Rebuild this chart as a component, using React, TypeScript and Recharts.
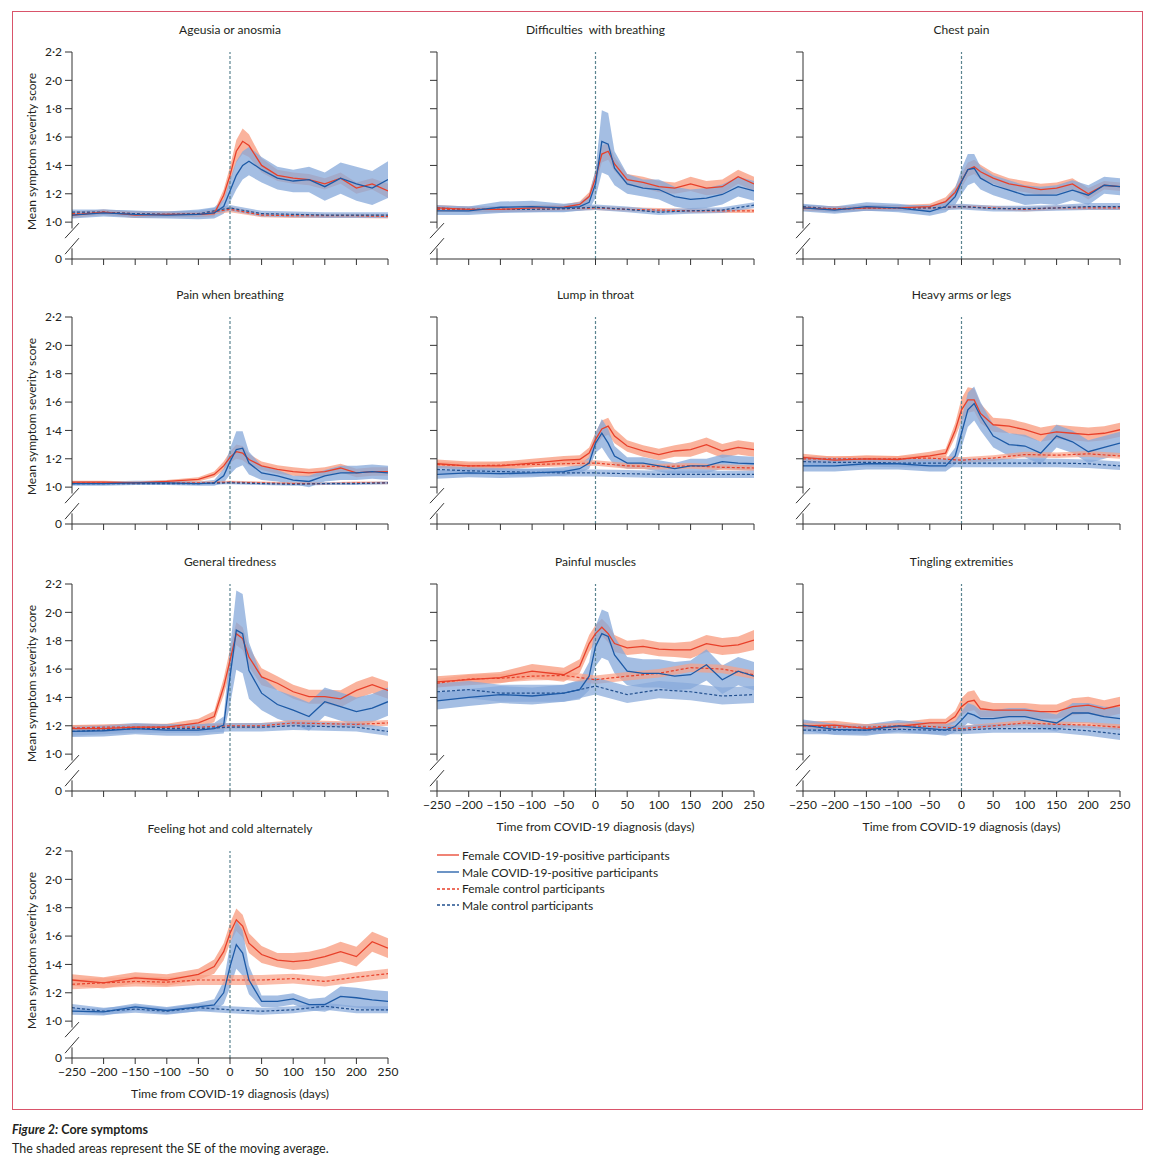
import React from 'react';
import { Area, ComposedChart, Line, ReferenceLine, XAxis, YAxis } from 'recharts';

// days relative to diagnosis
const X_POS = [-250, -200, -150, -100, -50, -25, -10, 0, 10, 20, 30, 50, 75, 100, 125, 150, 175, 200, 225, 250];
const X_CTL = [-250, -200, -150, -100, -50, 0, 50, 100, 150, 200, 250];
const X_TICKS = [-250, -200, -150, -100, -50, 0, 50, 100, 150, 200, 250];
// 0.74 stands in for the broken-axis "0"
const Y_TICKS = [0.74, 1.0, 1.2, 1.4, 1.6, 1.8, 2.0, 2.2];
const Y_ZERO = 0.74;

const ageusia = {
  title: 'Ageusia or anosmia',
  femalePos: [1.05, 1.07, 1.05, 1.055, 1.055, 1.06, 1.19, 1.33, 1.5, 1.57, 1.54, 1.4, 1.33, 1.31, 1.3, 1.27, 1.31, 1.24, 1.27, 1.22],
  femalePosSe: [0.02, 0.02, 0.02, 0.02, 0.02, 0.02, 0.04, 0.06, 0.08, 0.09, 0.08, 0.05, 0.04, 0.04, 0.04, 0.04, 0.04, 0.04, 0.04, 0.05],
  malePos: [1.05, 1.065, 1.055, 1.05, 1.055, 1.065, 1.11, 1.22, 1.33, 1.4, 1.43, 1.37, 1.31, 1.29, 1.3, 1.25, 1.31, 1.27, 1.24, 1.3],
  malePosSe: [0.025, 0.025, 0.025, 0.025, 0.035, 0.04, 0.05, 0.08, 0.1, 0.1, 0.1, 0.09, 0.08, 0.08, 0.09, 0.1, 0.11, 0.12, 0.12, 0.13],
  femaleCtl: [1.06, 1.07, 1.06, 1.055, 1.055, 1.09, 1.05, 1.045, 1.045, 1.045, 1.04],
  femaleCtlSe: [0.015, 0.015, 0.015, 0.015, 0.015, 0.02, 0.015, 0.015, 0.015, 0.015, 0.015],
  maleCtl: [1.07, 1.07, 1.06, 1.055, 1.06, 1.1, 1.06, 1.055, 1.05, 1.05, 1.05],
  maleCtlSe: [0.02, 0.02, 0.02, 0.02, 0.02, 0.02, 0.02, 0.02, 0.02, 0.02, 0.02],
};

const breathing = {
  title: 'Difficulties  with breathing',
  femalePos: [1.1, 1.09, 1.09, 1.1, 1.105, 1.125, 1.18, 1.31, 1.48, 1.5, 1.41, 1.3, 1.28, 1.25, 1.24, 1.27, 1.24, 1.25, 1.32, 1.27],
  femalePosSe: [0.02, 0.02, 0.02, 0.02, 0.02, 0.02, 0.03, 0.05, 0.06, 0.06, 0.05, 0.04, 0.04, 0.04, 0.04, 0.05, 0.05, 0.05, 0.05, 0.05],
  malePos: [1.08, 1.08, 1.105, 1.11, 1.1, 1.11, 1.14, 1.27, 1.57, 1.55, 1.38, 1.27, 1.24, 1.23, 1.18, 1.16, 1.17, 1.195, 1.25, 1.22],
  malePosSe: [0.03, 0.03, 0.04, 0.04, 0.03, 0.03, 0.05, 0.1, 0.22, 0.22, 0.12, 0.07, 0.06, 0.07, 0.07, 0.07, 0.07, 0.07, 0.07, 0.07],
  femaleCtl: [1.09, 1.09, 1.09, 1.09, 1.095, 1.1, 1.09, 1.085, 1.08, 1.08, 1.08],
  femaleCtlSe: [0.015, 0.015, 0.015, 0.015, 0.015, 0.015, 0.015, 0.015, 0.015, 0.015, 0.015],
  maleCtl: [1.1, 1.09, 1.09, 1.09, 1.095, 1.105, 1.09, 1.07, 1.08, 1.085, 1.12],
  maleCtlSe: [0.02, 0.02, 0.02, 0.02, 0.02, 0.02, 0.02, 0.02, 0.02, 0.02, 0.02],
};

const chestPain = {
  title: 'Chest pain',
  femalePos: [1.1, 1.09, 1.1, 1.1, 1.11, 1.145, 1.21, 1.29, 1.37, 1.39, 1.355, 1.31, 1.27, 1.25, 1.23, 1.24, 1.27, 1.2, 1.26, 1.25],
  femalePosSe: [0.02, 0.02, 0.02, 0.02, 0.02, 0.03, 0.04, 0.05, 0.05, 0.05, 0.05, 0.04, 0.04, 0.04, 0.04, 0.04, 0.04, 0.04, 0.03, 0.03],
  malePos: [1.1, 1.085, 1.11, 1.1, 1.075, 1.11, 1.18, 1.285, 1.37, 1.38, 1.31, 1.26, 1.225, 1.19, 1.19, 1.19, 1.225, 1.19, 1.26, 1.25],
  malePosSe: [0.025, 0.025, 0.03, 0.03, 0.03, 0.04, 0.06, 0.09, 0.11, 0.1, 0.08, 0.07, 0.07, 0.07, 0.06, 0.07, 0.07, 0.07, 0.06, 0.06],
  femaleCtl: [1.1, 1.095, 1.1, 1.1, 1.1, 1.11, 1.1, 1.09, 1.1, 1.1, 1.1],
  femaleCtlSe: [0.015, 0.015, 0.015, 0.015, 0.015, 0.015, 0.015, 0.015, 0.015, 0.015, 0.015],
  maleCtl: [1.11, 1.09, 1.1, 1.1, 1.1, 1.11, 1.095, 1.095, 1.1, 1.11, 1.11],
  maleCtlSe: [0.02, 0.02, 0.02, 0.02, 0.02, 0.02, 0.02, 0.02, 0.02, 0.025, 0.025],
};

const painBreathing = {
  title: 'Pain when breathing',
  femalePos: [1.035, 1.035, 1.03, 1.04, 1.055, 1.09, 1.15, 1.21, 1.25, 1.24, 1.195, 1.15, 1.125, 1.11, 1.1, 1.11, 1.135, 1.1, 1.11, 1.11],
  femalePosSe: [0.01, 0.01, 0.01, 0.01, 0.015, 0.02, 0.03, 0.04, 0.05, 0.05, 0.04, 0.03, 0.03, 0.03, 0.03, 0.03, 0.03, 0.03, 0.03, 0.03],
  malePos: [1.025, 1.025, 1.03, 1.03, 1.025, 1.03, 1.08, 1.18, 1.265, 1.275, 1.17, 1.1, 1.08, 1.05, 1.04, 1.08, 1.1, 1.1, 1.11, 1.1],
  malePosSe: [0.015, 0.015, 0.015, 0.015, 0.015, 0.02, 0.05, 0.09, 0.13, 0.12, 0.08, 0.05, 0.04, 0.03, 0.04, 0.04, 0.05, 0.05, 0.05, 0.05],
  femaleCtl: [1.03, 1.03, 1.03, 1.03, 1.03, 1.035, 1.03, 1.025, 1.025, 1.03, 1.03],
  femaleCtlSe: [0.01, 0.01, 0.01, 0.01, 0.01, 0.01, 0.01, 0.01, 0.01, 0.01, 0.01],
  maleCtl: [1.025, 1.025, 1.025, 1.025, 1.025, 1.03, 1.025, 1.02, 1.025, 1.025, 1.03],
  maleCtlSe: [0.01, 0.01, 0.01, 0.01, 0.01, 0.01, 0.01, 0.01, 0.01, 0.01, 0.01],
};

const lumpThroat = {
  title: 'Lump in throat',
  femalePos: [1.165, 1.15, 1.15, 1.17, 1.19, 1.195, 1.24, 1.335, 1.41, 1.43, 1.36, 1.29, 1.255, 1.23, 1.255, 1.265, 1.3, 1.255, 1.28, 1.265],
  femalePosSe: [0.03, 0.03, 0.03, 0.03, 0.03, 0.03, 0.04, 0.05, 0.06, 0.06, 0.05, 0.04, 0.04, 0.04, 0.04, 0.05, 0.05, 0.05, 0.05, 0.05],
  malePos: [1.09, 1.1, 1.095, 1.1, 1.11, 1.13, 1.17, 1.31, 1.38, 1.31, 1.22, 1.17, 1.17, 1.15, 1.13, 1.15, 1.15, 1.18, 1.17, 1.165],
  malePosSe: [0.03, 0.03, 0.03, 0.03, 0.03, 0.03, 0.04, 0.07, 0.1, 0.1, 0.07, 0.04, 0.04, 0.04, 0.04, 0.05, 0.05, 0.05, 0.05, 0.05],
  femaleCtl: [1.16, 1.15, 1.155, 1.16, 1.165, 1.17, 1.15, 1.145, 1.15, 1.14, 1.135],
  femaleCtlSe: [0.02, 0.02, 0.02, 0.02, 0.02, 0.02, 0.02, 0.02, 0.02, 0.02, 0.02],
  maleCtl: [1.125, 1.115, 1.11, 1.105, 1.1, 1.1, 1.095, 1.09, 1.09, 1.09, 1.09],
  maleCtlSe: [0.025, 0.025, 0.025, 0.025, 0.025, 0.025, 0.025, 0.025, 0.025, 0.025, 0.025],
};

const heavyLimbs = {
  title: 'Heavy arms or legs',
  femalePos: [1.21, 1.19, 1.2, 1.195, 1.22, 1.24, 1.4, 1.545, 1.615, 1.615, 1.52, 1.44, 1.43, 1.405, 1.37, 1.39, 1.38, 1.37, 1.38, 1.405],
  femalePosSe: [0.025, 0.025, 0.025, 0.025, 0.03, 0.03, 0.05, 0.08, 0.09, 0.08, 0.07, 0.05, 0.05, 0.05, 0.05, 0.05, 0.05, 0.05, 0.05, 0.05],
  malePos: [1.15, 1.15, 1.165, 1.165, 1.15, 1.15, 1.22, 1.38, 1.545, 1.59, 1.5, 1.36, 1.3, 1.29, 1.24, 1.36, 1.32, 1.25, 1.28, 1.31],
  malePosSe: [0.04, 0.04, 0.04, 0.04, 0.04, 0.04, 0.06, 0.1, 0.12, 0.12, 0.1, 0.08, 0.08, 0.08, 0.08, 0.08, 0.08, 0.08, 0.08, 0.08],
  femaleCtl: [1.2, 1.2, 1.2, 1.2, 1.205, 1.19, 1.205, 1.23, 1.225, 1.235, 1.22],
  femaleCtlSe: [0.02, 0.02, 0.02, 0.02, 0.02, 0.02, 0.02, 0.02, 0.02, 0.02, 0.02],
  maleCtl: [1.18, 1.175, 1.175, 1.17, 1.17, 1.17, 1.17, 1.17, 1.17, 1.165, 1.15],
  maleCtlSe: [0.03, 0.03, 0.03, 0.03, 0.03, 0.03, 0.03, 0.03, 0.03, 0.03, 0.03],
};

const tiredness = {
  title: 'General tiredness',
  femalePos: [1.18, 1.18, 1.19, 1.19, 1.22, 1.265, 1.475, 1.66, 1.85, 1.815, 1.685, 1.545, 1.5, 1.44, 1.405, 1.405, 1.39, 1.45, 1.49, 1.45],
  femalePosSe: [0.025, 0.025, 0.025, 0.025, 0.03, 0.04, 0.06, 0.08, 0.08, 0.08, 0.07, 0.06, 0.05, 0.05, 0.05, 0.05, 0.06, 0.06, 0.06, 0.06],
  malePos: [1.16, 1.165, 1.18, 1.17, 1.17, 1.18, 1.205, 1.545, 1.875, 1.85, 1.59, 1.43, 1.35, 1.31, 1.265, 1.37, 1.335, 1.3, 1.325, 1.37],
  malePosSe: [0.04, 0.04, 0.04, 0.04, 0.04, 0.04, 0.06, 0.2, 0.28, 0.28, 0.2, 0.12, 0.1, 0.1, 0.1, 0.1, 0.1, 0.1, 0.1, 0.1],
  femaleCtl: [1.185, 1.19, 1.19, 1.19, 1.19, 1.2, 1.2, 1.22, 1.215, 1.21, 1.22],
  femaleCtlSe: [0.02, 0.02, 0.02, 0.02, 0.02, 0.02, 0.02, 0.02, 0.02, 0.02, 0.02],
  maleCtl: [1.16, 1.17, 1.18, 1.18, 1.18, 1.19, 1.19, 1.2, 1.195, 1.19, 1.16],
  maleCtlSe: [0.03, 0.03, 0.03, 0.03, 0.03, 0.03, 0.03, 0.03, 0.03, 0.03, 0.03],
};

const muscles = {
  title: 'Painful muscles',
  femalePos: [1.51, 1.525, 1.54, 1.585, 1.56, 1.62, 1.78, 1.85, 1.895, 1.85, 1.78, 1.75, 1.76, 1.74, 1.735, 1.735, 1.78, 1.76, 1.77, 1.805],
  femalePosSe: [0.04, 0.04, 0.04, 0.05, 0.05, 0.05, 0.06, 0.06, 0.06, 0.06, 0.06, 0.05, 0.05, 0.05, 0.05, 0.06, 0.06, 0.06, 0.06, 0.07],
  malePos: [1.375, 1.4, 1.42, 1.41, 1.43, 1.455, 1.55, 1.76, 1.85, 1.83, 1.7, 1.585, 1.57, 1.57, 1.55, 1.56, 1.63, 1.525, 1.585, 1.55],
  malePosSe: [0.06, 0.06, 0.06, 0.06, 0.06, 0.07, 0.1, 0.14, 0.17, 0.17, 0.13, 0.1, 0.1, 0.1, 0.1, 0.1, 0.11, 0.1, 0.1, 0.1],
  femaleCtl: [1.5, 1.53, 1.535, 1.55, 1.555, 1.525, 1.55, 1.57, 1.61, 1.6, 1.56],
  femaleCtlSe: [0.03, 0.03, 0.03, 0.03, 0.03, 0.03, 0.03, 0.03, 0.03, 0.03, 0.03],
  maleCtl: [1.44, 1.455, 1.43, 1.43, 1.43, 1.48, 1.42, 1.455, 1.44, 1.41, 1.42],
  maleCtlSe: [0.06, 0.06, 0.06, 0.06, 0.06, 0.06, 0.06, 0.06, 0.06, 0.06, 0.06],
};

const tingling = {
  title: 'Tingling extremities',
  femalePos: [1.2, 1.205, 1.18, 1.195, 1.22, 1.22, 1.265, 1.335, 1.37, 1.38, 1.32, 1.31, 1.31, 1.31, 1.3, 1.3, 1.335, 1.345, 1.32, 1.345],
  femalePosSe: [0.03, 0.03, 0.03, 0.03, 0.03, 0.03, 0.04, 0.06, 0.07, 0.07, 0.06, 0.05, 0.05, 0.05, 0.05, 0.05, 0.06, 0.06, 0.06, 0.06],
  malePos: [1.205, 1.175, 1.17, 1.2, 1.18, 1.17, 1.195, 1.24, 1.29, 1.275, 1.25, 1.25, 1.265, 1.265, 1.24, 1.22, 1.29, 1.29, 1.265, 1.25],
  malePosSe: [0.04, 0.04, 0.04, 0.04, 0.04, 0.04, 0.04, 0.06, 0.07, 0.07, 0.06, 0.06, 0.06, 0.06, 0.06, 0.06, 0.07, 0.07, 0.07, 0.08],
  femaleCtl: [1.2, 1.19, 1.19, 1.2, 1.195, 1.18, 1.2, 1.22, 1.21, 1.205, 1.19],
  femaleCtlSe: [0.02, 0.02, 0.02, 0.02, 0.02, 0.02, 0.02, 0.02, 0.02, 0.02, 0.02],
  maleCtl: [1.17, 1.17, 1.17, 1.175, 1.17, 1.17, 1.18, 1.18, 1.18, 1.165, 1.14],
  maleCtlSe: [0.03, 0.03, 0.03, 0.03, 0.03, 0.03, 0.03, 0.03, 0.03, 0.035, 0.04],
};

const hotCold = {
  title: 'Feeling hot and cold alternately',
  femalePos: [1.29, 1.27, 1.305, 1.29, 1.33, 1.385, 1.49, 1.62, 1.715, 1.67, 1.55, 1.47, 1.43, 1.42, 1.43, 1.455, 1.49, 1.455, 1.56, 1.515],
  femalePosSe: [0.04, 0.04, 0.04, 0.04, 0.04, 0.05, 0.06, 0.07, 0.08, 0.08, 0.07, 0.06, 0.05, 0.06, 0.06, 0.06, 0.07, 0.07, 0.07, 0.07],
  malePos: [1.07, 1.065, 1.1, 1.075, 1.1, 1.115, 1.2, 1.385, 1.54, 1.48, 1.29, 1.14, 1.14, 1.157, 1.117, 1.117, 1.175, 1.165, 1.15, 1.14],
  malePosSe: [0.025, 0.025, 0.025, 0.025, 0.03, 0.04, 0.08, 0.15, 0.17, 0.16, 0.1, 0.04, 0.04, 0.04, 0.04, 0.05, 0.07, 0.07, 0.07, 0.07],
  femaleCtl: [1.26, 1.27, 1.28, 1.275, 1.29, 1.29, 1.29, 1.3, 1.28, 1.31, 1.335],
  femaleCtlSe: [0.035, 0.035, 0.035, 0.035, 0.035, 0.035, 0.035, 0.035, 0.035, 0.035, 0.035],
  maleCtl: [1.095, 1.07, 1.085, 1.07, 1.095, 1.08, 1.07, 1.08, 1.105, 1.08, 1.08],
  maleCtlSe: [0.025, 0.025, 0.025, 0.025, 0.025, 0.025, 0.025, 0.025, 0.025, 0.025, 0.025],
};

const FONT = 'Lato, "Noto Sans", sans-serif';
const INK = '#231f20';
const RED = '#e8402a';
const RED_BAND = '#f9a085';
const BLUE = '#1d5aa6';
const BLUE_BAND = '#86a8da';
const BLUE_CTL = '#22508f';
const ZERO_LINE = '#5a8490';

const COL_LEFT = [72, 437, 803];
const COL_WIDTH = [316, 317, 317];
const ROW_TOP = [52, 317, 584, 851];
const PLOT_H = 207;

const PANELS = [
  { s: ageusia, col: 0, row: 0, xLabels: false },
  { s: breathing, col: 1, row: 0, xLabels: false },
  { s: chestPain, col: 2, row: 0, xLabels: false },
  { s: painBreathing, col: 0, row: 1, xLabels: false },
  { s: lumpThroat, col: 1, row: 1, xLabels: false },
  { s: heavyLimbs, col: 2, row: 1, xLabels: false },
  { s: tiredness, col: 0, row: 2, xLabels: false },
  { s: muscles, col: 1, row: 2, xLabels: true },
  { s: tingling, col: 2, row: 2, xLabels: true },
  { s: hotCold, col: 0, row: 3, xLabels: true },
];

const LEGEND = [
  { label: 'Female COVID-19-positive participants', color: RED, dash: undefined },
  { label: 'Male COVID-19-positive participants', color: BLUE, dash: undefined },
  { label: 'Female control participants', color: RED, dash: '3 2' },
  { label: 'Male control participants', color: BLUE_CTL, dash: '3 2' },
];

const fmtX = (v: number) => (v < 0 ? `\u2212${Math.abs(v)}` : `${v}`);
const fmtY = (v: number) => (v === Y_ZERO ? '0' : v.toFixed(1).replace('.', '\u00b7'));

function Panel({ s, col, row, xLabels }: any) {
  const left = COL_LEFT[col];
  const width = COL_WIDTH[col];
  const top = ROW_TOP[row];
  const yLabels = col === 0;
  const ML = 50;
  const MT = 40;
  const MB = 45;

  const pos = X_POS.map((x, i) => ({
    x,
    f: s.femalePos[i],
    fBand: [s.femalePos[i] - s.femalePosSe[i], s.femalePos[i] + s.femalePosSe[i]],
    m: s.malePos[i],
    mBand: [s.malePos[i] - s.malePosSe[i], s.malePos[i] + s.malePosSe[i]],
  }));
  const ctl = X_CTL.map((x, i) => ({
    x,
    f: s.femaleCtl[i],
    fBand: [s.femaleCtl[i] - s.femaleCtlSe[i], s.femaleCtl[i] + s.femaleCtlSe[i]],
    m: s.maleCtl[i],
    mBand: [s.maleCtl[i] - s.maleCtlSe[i], s.maleCtl[i] + s.maleCtlSe[i]],
  }));

  const tickStyle = { fontSize: 12, fill: INK, fontFamily: FONT };

  return (
    <>
      <div style={{ position: 'absolute', left, top: top - 30, width, textAlign: 'center', fontSize: 12, whiteSpace: 'pre' }}>
        {s.title}
      </div>
      {yLabels && (
        <div
          style={{
            position: 'absolute',
            left: 31 - 110,
            top: top + 100 - 8,
            width: 220,
            textAlign: 'center',
            fontSize: 12,
            transform: 'rotate(-90deg)',
          }}
        >
          Mean symptom severity score
        </div>
      )}
      {xLabels && (
        <div style={{ position: 'absolute', left, top: top + PLOT_H + 28, width, textAlign: 'center', fontSize: 12 }}>
          Time from COVID-19 diagnosis (days)
        </div>
      )}
      <div style={{ position: 'absolute', left: left - ML, top: top - MT }}>
        <ComposedChart width={ML + width + 12} height={MT + PLOT_H + MB} margin={{ top: MT, right: 12, bottom: 0, left: 0 }}>
          <XAxis
            type="number"
            dataKey="x"
            domain={[-250, 250]}
            ticks={X_TICKS}
            interval={0}
            height={MB}
            allowDataOverflow
            stroke="#333"
            axisLine={{ stroke: '#333' }}
            tickLine={{ stroke: '#333' }}
            tickSize={6}
            tickMargin={3}
            tick={tickStyle}
            tickFormatter={(v: number) => (xLabels ? fmtX(v) : '')}
          />
          <YAxis
            type="number"
            domain={[Y_ZERO, 2.2]}
            ticks={Y_TICKS}
            interval={0}
            width={ML}
            allowDataOverflow
            axisLine={false}
            tickLine={{ stroke: '#333' }}
            tickSize={7}
            tickMargin={3}
            tick={tickStyle}
            tickFormatter={(v: number) => (yLabels ? fmtY(v) : '')}
          />
          <Area data={pos} dataKey="fBand" type="linear" stroke="none" fill={RED_BAND} fillOpacity={0.8} isAnimationActive={false} activeDot={false} />
          <Area data={pos} dataKey="mBand" type="linear" stroke="none" fill={BLUE_BAND} fillOpacity={0.75} isAnimationActive={false} activeDot={false} />
          <Area data={ctl} dataKey="fBand" type="linear" stroke="none" fill={RED_BAND} fillOpacity={0.7} isAnimationActive={false} activeDot={false} />
          <Area data={ctl} dataKey="mBand" type="linear" stroke="none" fill={BLUE_BAND} fillOpacity={0.7} isAnimationActive={false} activeDot={false} />
          <ReferenceLine x={0} stroke={ZERO_LINE} strokeDasharray="3 2" strokeWidth={1.2} />
          <Line data={ctl} dataKey="f" type="linear" stroke={RED} strokeWidth={1.2} strokeDasharray="3 2" dot={false} activeDot={false} isAnimationActive={false} />
          <Line data={ctl} dataKey="m" type="linear" stroke={BLUE_CTL} strokeWidth={1.2} strokeDasharray="3 2" dot={false} activeDot={false} isAnimationActive={false} />
          <Line data={pos} dataKey="f" type="linear" stroke={RED} strokeWidth={1.3} dot={false} activeDot={false} isAnimationActive={false} />
          <Line data={pos} dataKey="m" type="linear" stroke={BLUE} strokeWidth={1.3} dot={false} activeDot={false} isAnimationActive={false} />
          {/* broken y axis */}
          <ReferenceLine segment={[{ x: -250, y: 0.955 }, { x: -250, y: 2.2 }]} stroke="#333" ifOverflow="visible" />
          <ReferenceLine segment={[{ x: -250, y: Y_ZERO }, { x: -250, y: 0.815 }]} stroke="#333" ifOverflow="visible" />
          <ReferenceLine segment={[{ x: -261, y: 0.887 }, { x: -239, y: 0.993 }]} stroke="#333" ifOverflow="visible" />
          <ReferenceLine segment={[{ x: -261, y: 0.774 }, { x: -239, y: 0.887 }]} stroke="#333" ifOverflow="visible" />
        </ComposedChart>
      </div>
    </>
  );
}

export default function App() {
  return (
    <div
      style={{
        position: 'absolute',
        left: 0,
        top: 0,
        width: 1155,
        height: 1164,
        background: '#fff',
        fontFamily: FONT,
        color: INK,
      }}
    >
      <div
        style={{
          position: 'absolute',
          left: 12,
          top: 11,
          width: 1131,
          height: 1099,
          border: '1px solid #d9546a',
          boxSizing: 'border-box',
        }}
      />
      {PANELS.map((p) => (
        <Panel key={p.s.title} {...p} />
      ))}
      <div style={{ position: 'absolute', left: 437, top: 847 }}>
        {LEGEND.map((l) => (
          <div key={l.label} style={{ display: 'flex', alignItems: 'center', height: 16.7, fontSize: 12 }}>
            <svg width={22} height={10} style={{ marginRight: 3 }}>
              <line x1={0} y1={5} x2={22} y2={5} stroke={l.color} strokeWidth={1.3} strokeDasharray={l.dash} />
            </svg>
            <span>{l.label}</span>
          </div>
        ))}
      </div>
      <div style={{ position: 'absolute', left: 12, top: 1120, fontSize: 12.5, lineHeight: '19px' }}>
        <div style={{ fontWeight: 700 }}>
          <i>Figure 2:</i> Core symptoms
        </div>
        <div>The shaded areas represent the SE of the moving average.</div>
      </div>
    </div>
  );
}
